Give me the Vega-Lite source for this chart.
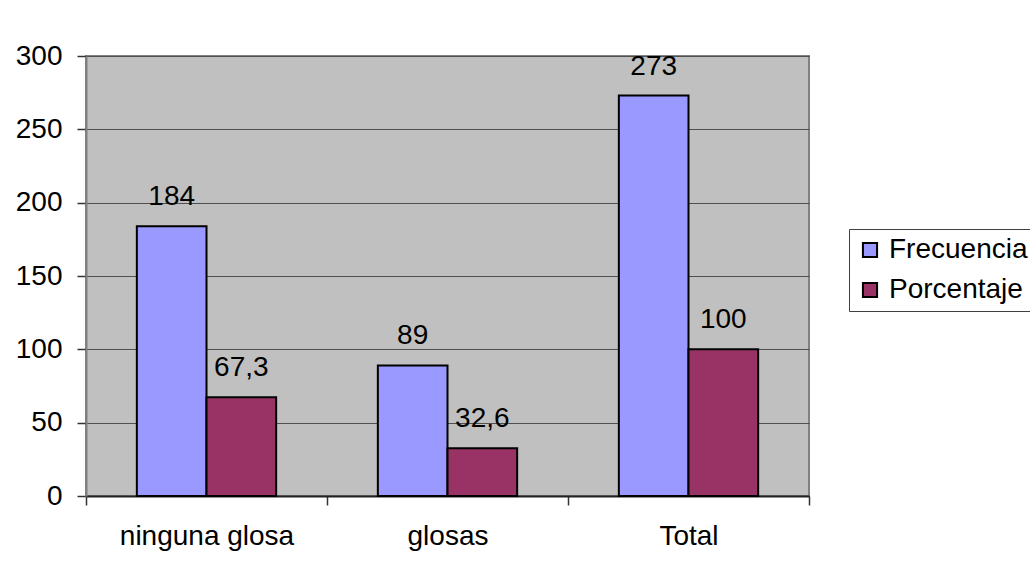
{
  "$schema": "https://vega.github.io/schema/vega-lite/v6.json",
  "width": 723,
  "height": 440,
  "autosize": {"type": "none"},
  "padding": {"left": 86, "top": 56, "right": 221, "bottom": 75},
  "background": "white",
  "config": {
    "font": "Liberation Sans",
    "locale": {"number": {"decimal": ",", "thousands": ".", "grouping": [3], "currency": ["", " €"]}},
    "view": {"fill": "#C0C0C0", "stroke": "#808080", "strokeWidth": 2}
  },
  "data": {
    "values": [
      {"categoria": "ninguna glosa", "serie": "Frecuencia", "valor": 184},
      {"categoria": "ninguna glosa", "serie": "Porcentaje", "valor": 67.3},
      {"categoria": "glosas", "serie": "Frecuencia", "valor": 89},
      {"categoria": "glosas", "serie": "Porcentaje", "valor": 32.6},
      {"categoria": "Total", "serie": "Frecuencia", "valor": 273},
      {"categoria": "Total", "serie": "Porcentaje", "valor": 100}
    ]
  },
  "encoding": {
    "x": {
      "field": "categoria",
      "type": "nominal",
      "sort": ["ninguna glosa", "glosas", "Total"],
      "scale": {"paddingInner": 0, "paddingOuter": 0},
      "axis": {
        "title": null,
        "labelAngle": 0,
        "tickBand": "extent",
        "tickSize": 9,
        "tickColor": "#333333",
        "tickWidth": 1.5,
        "domainColor": "#222222",
        "domainWidth": 2,
        "labelFontSize": 28,
        "labelColor": "black",
        "labelPadding": 17,
        "labelLimit": 400,
        "grid": false
      }
    },
    "xOffset": {
      "field": "serie",
      "type": "nominal",
      "sort": ["Frecuencia", "Porcentaje"],
      "scale": {"paddingInner": 0, "paddingOuter": 0.73}
    },
    "y": {
      "field": "valor",
      "type": "quantitative",
      "scale": {"domain": [0, 300], "nice": false},
      "axis": {
        "title": null,
        "values": [0, 50, 100, 150, 200, 250, 300],
        "grid": true,
        "gridColor": "#505050",
        "gridWidth": 1,
        "tickSize": 9,
        "tickColor": "#333333",
        "tickWidth": 1.5,
        "domainColor": "#808080",
        "domainWidth": 2,
        "labelFontSize": 28,
        "labelColor": "black",
        "labelPadding": 15
      }
    }
  },
  "layer": [
    {
      "mark": {"type": "bar", "stroke": "black", "strokeWidth": 2},
      "encoding": {
        "color": {
          "field": "serie",
          "type": "nominal",
          "scale": {"domain": ["Frecuencia", "Porcentaje"], "range": ["#9999FF", "#993366"]},
          "legend": {
            "orient": "none",
            "legendX": 763,
            "legendY": 173,
            "title": null,
            "strokeColor": "#404040",
            "padding": 7,
            "rowPadding": 12,
            "symbolType": "square",
            "symbolSize": 200,
            "symbolStrokeColor": "black",
            "symbolStrokeWidth": 2,
            "symbolOpacity": 1,
            "labelFontSize": 28,
            "labelColor": "black",
            "labelOffset": 5,
            "labelLimit": 400
          }
        }
      }
    },
    {
      "mark": {"type": "text", "baseline": "alphabetic", "dy": -21, "fontSize": 28, "color": "black"},
      "encoding": {
        "text": {"field": "valor", "type": "quantitative", "format": ".1~f"}
      }
    }
  ]
}
